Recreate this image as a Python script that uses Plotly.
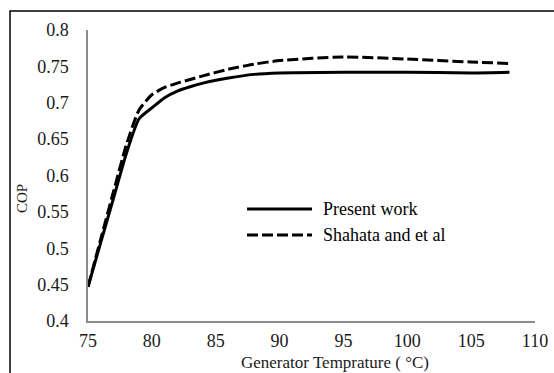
import plotly.graph_objects as go

# Generator temperature (°C) and COP for both data sets
temp_present = [75, 76, 77, 78, 79, 80, 81, 82, 83, 84, 86, 88, 90, 95, 100, 105, 108]
cop_present = [0.447, 0.508, 0.569, 0.630, 0.678, 0.693, 0.707, 0.716, 0.722, 0.727,
               0.734, 0.739, 0.741, 0.742, 0.742, 0.741, 0.742]

temp_shahata = [75, 76, 77, 78, 79, 80, 81, 82, 83, 84, 86, 88, 90, 95, 100, 105, 108]
cop_shahata = [0.447, 0.513, 0.578, 0.642, 0.690, 0.711, 0.721, 0.727, 0.732, 0.737,
               0.746, 0.753, 0.758, 0.763, 0.760, 0.756, 0.754]

series_names = ["Present work", "Shahata and et al"]
y_ticks = [0.4, 0.45, 0.5, 0.55, 0.6, 0.65, 0.7, 0.75, 0.8]
y_tick_labels = ["0.4", "0.45", "0.5", "0.55", "0.6", "0.65", "0.7", "0.75", "0.8"]
x_ticks = [75, 80, 85, 90, 95, 100, 105, 110]
x_tick_labels = ["75", "80", "85", "90", "95", "100", "105", "110"]

W, H = 554, 373
ML, MR, MT, MB = 88, 19, 30, 52
PW, PH = W - ML - MR, H - MT - MB
FONT = "Liberation Serif, Times New Roman, serif"
TEXT = "#1a1a1a"


def px_x(px):
    return (px - ML) / PW


def px_y(py):
    return (H - MB - py) / PH


styles = [dict(color="black", width=3, dash="solid"),
          dict(color="black", width=3, dash="11px,4px")]

fig = go.Figure()
for name, xs, ys, st in zip(series_names, [temp_present, temp_shahata],
                            [cop_present, cop_shahata], styles):
    fig.add_trace(go.Scatter(x=xs, y=ys, mode="lines", name=name,
                             line=dict(shape="spline", smoothing=0.6, **st),
                             showlegend=False))

shapes = []
annotations = []

# Legend drawn inside the plot area
for i, (name, st) in enumerate(zip(series_names, styles)):
    yy = px_y(209 + i * 26)
    shapes.append(dict(type="line", xref="paper", yref="paper",
                       x0=px_x(247), x1=px_x(312), y0=yy, y1=yy, line=st))
    annotations.append(dict(text=name, xref="paper", yref="paper",
                            x=px_x(321), y=yy, xanchor="left", yanchor="middle",
                            showarrow=False, font=dict(family=FONT, size=18, color="black")))

# Outer frame around the chart
shapes.append(dict(type="path", xref="paper", yref="paper",
                   path=f"M {px_x(10)},{px_y(380)} L {px_x(10)},{px_y(11)} L {px_x(560)},{px_y(11)}",
                   line=dict(color="black", width=1.5)))

# Axis titles
annotations.append(dict(text="Generator Temprature ( °C)", xref="paper", yref="paper",
                        x=px_x(335), y=px_y(362), xanchor="center", yanchor="middle",
                        showarrow=False, font=dict(family=FONT, size=17, color=TEXT)))
annotations.append(dict(text="COP", xref="paper", yref="paper",
                        x=px_x(22), y=px_y(199), xanchor="center", yanchor="middle",
                        textangle=-90, showarrow=False,
                        font=dict(family=FONT, size=15, color=TEXT)))

fig.update_layout(
    width=W, height=H,
    margin=dict(l=ML, r=MR, t=MT, b=MB, autoexpand=False),
    paper_bgcolor="white", plot_bgcolor="white",
    font=dict(family=FONT, size=18, color=TEXT),
    shapes=shapes, annotations=annotations,
    xaxis=dict(range=[75, 110], tickvals=x_ticks, ticktext=x_tick_labels,
               showgrid=False, zeroline=False, showline=True, automargin=False,
               linecolor="#8c8c8c", linewidth=1.5,
               ticks="outside", ticklen=3, tickcolor="rgba(0,0,0,0)"),
    yaxis=dict(range=[0.4, 0.8], tickvals=y_ticks, ticktext=y_tick_labels,
               showgrid=False, zeroline=False, showline=True, automargin=False,
               linecolor="#8c8c8c", linewidth=1.5,
               ticks="outside", ticklen=14, tickcolor="rgba(0,0,0,0)"),
)

fig.write_html("out.html")
